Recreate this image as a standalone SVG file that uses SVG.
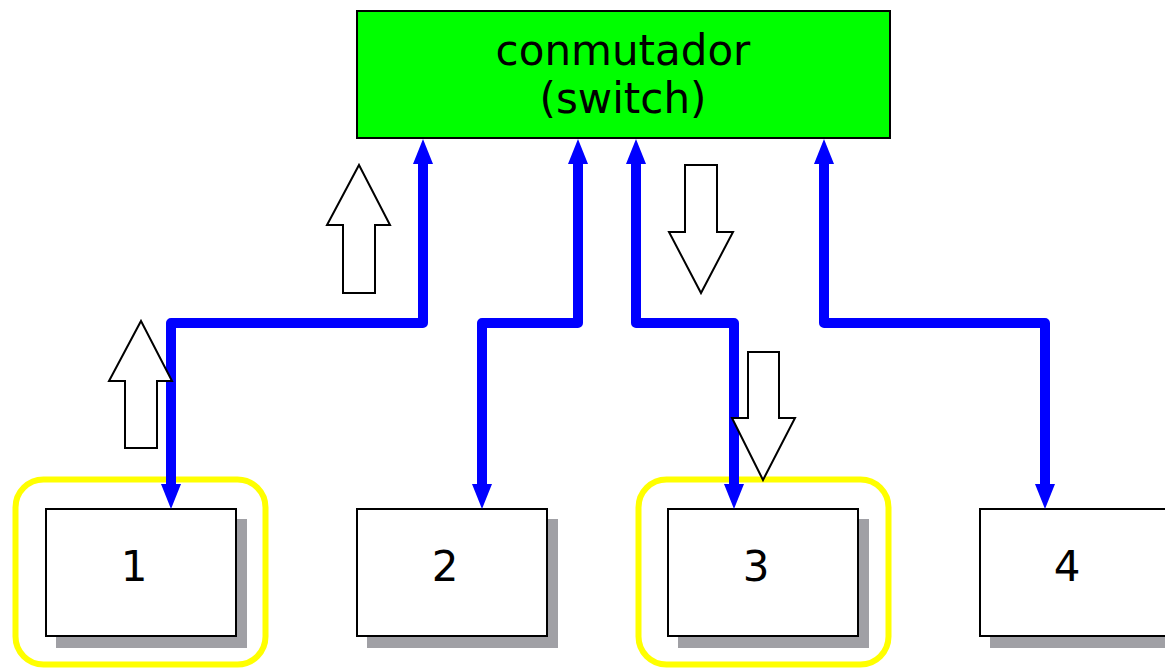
<svg xmlns="http://www.w3.org/2000/svg" width="1165" height="668" viewBox="0 0 1165 668">
<style>
text{font-family:"DejaVu Sans","Liberation Sans",sans-serif;font-size:42px;fill:#000;text-anchor:middle}
.shadow{fill:#a0a0a5}
.box{fill:#fff;stroke:#000;stroke-width:2}
.hl{fill:none;stroke:#ffff00;stroke-width:6}
.wire{fill:none;stroke:#0000ff;stroke-width:10;stroke-linejoin:round;marker-start:url(#ah);marker-end:url(#ah)}
.blk{fill:#fff;stroke:#000;stroke-width:2;stroke-linejoin:miter}
</style>
<defs>
<marker id="ah" viewBox="0 0 25 20" refX="0" refY="10" markerWidth="25" markerHeight="20" markerUnits="userSpaceOnUse" orient="auto-start-reverse">
<path d="M0,0 L25,10 L0,20 z" fill="#0000ff"/>
</marker>
</defs>
<rect width="1165" height="668" fill="#fff"/>
<g id="highlight1"><rect class="hl" x="15.5" y="479.5" width="250" height="185" rx="28"/></g>
<g id="highlight3"><rect class="hl" x="638.5" y="479.5" width="250" height="185" rx="28"/></g>
<g id="switch">
<rect x="357" y="11" width="533" height="127" fill="#00ff00" stroke="#000" stroke-width="2"/>
<text x="623" y="65">conmutador</text>
<text x="623" y="113">(switch)</text>
</g>
<g id="node1"><rect class="shadow" x="56" y="519" width="191" height="129"/><rect class="box" x="46" y="509" width="190" height="127"/><text x="134" y="581">1</text></g>
<g id="node2"><rect class="shadow" x="367" y="519" width="191" height="129"/><rect class="box" x="357" y="509" width="190" height="127"/><text x="445" y="581">2</text></g>
<g id="node3"><rect class="shadow" x="678" y="519" width="191" height="129"/><rect class="box" x="668" y="509" width="190" height="127"/><text x="756" y="581">3</text></g>
<g id="node4"><rect class="shadow" x="990" y="519" width="191" height="129"/><rect class="box" x="980" y="509" width="190" height="127"/><text x="1067" y="581">4</text></g>
<g id="connectors">
<path class="wire" d="M423,164 V323 H171 V484"/>
<path class="wire" d="M578,164 V323 H482 V484"/>
<path class="wire" d="M636,164 V323 H734 V484"/>
<path class="wire" d="M824,164 V323 H1045 V484"/>
</g>
<g id="flow-arrows">
<path class="blk" d="M141,321 L172,381 L157,381 L157,448 L125,448 L125,381 L109,381 z"/>
<path class="blk" d="M359,165 L390,225 L375,225 L375,293 L343,293 L343,225 L327,225 z"/>
<path class="blk" d="M685,165 L717,165 L717,232 L733,232 L701,293 L669,232 L685,232 z"/>
<path class="blk" d="M748,352 L779,352 L779,418 L795,418 L763,480 L732,418 L748,418 z"/>
</g>
</svg>
